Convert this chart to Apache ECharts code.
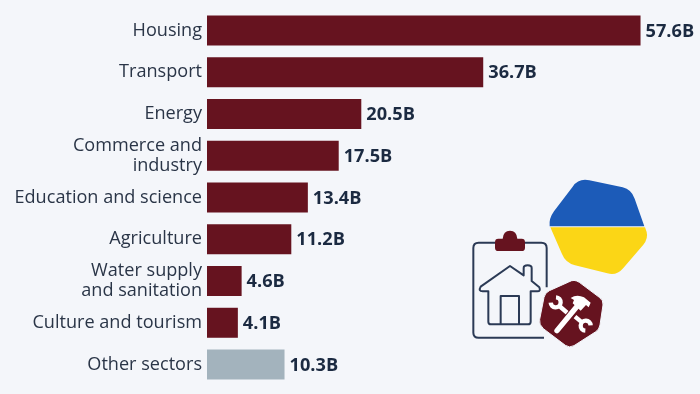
<!DOCTYPE html>
<html>
<head>
<meta charset="utf-8">
<script src="https://cdn.jsdelivr.net/npm/echarts@6/dist/echarts.min.js"></script>
<style>
  html, body { margin: 0; padding: 0; background: #f4f6fa; }
  #chart { width: 700px; height: 394px; }
</style>
</head>
<body>
<div id="chart"></div>
<script>
var categories = ['Housing', 'Transport', 'Energy', 'Commerce and\nindustry', 'Education and science',
                  'Agriculture', 'Water supply\nand sanitation', 'Culture and tourism', 'Other sectors'];
var values = [57.6, 36.7, 20.5, 17.5, 13.4, 11.2, 4.6, 4.1, 10.3];

var maroon = '#66131f';
var grey = '#a3b3bd';
var ink = '#2a3547';
var navy = '#1b2a41';
var pageBg = '#f4f6fa';

var myChart = echarts.init(document.getElementById('chart'));

// the graphic component has no plain path type, so register each icon shape
function iconPath(name, pathData, style) {
  echarts.graphic.registerShape(name, echarts.graphic.extendPath(pathData, {}));
  return { type: name, style: style };
}

var lineIcon = { fill: 'none', stroke: '#2b3a55', lineWidth: 6, lineJoin: 'round' };
var toolLine = { fill: 'none', stroke: '#fff', lineWidth: 13, lineCap: 'butt' };

// icons are drawn in the coordinates of a 3x crop, hence the scale on the group
var icons = {
  type: 'group',
  x: 460,
  y: 170,
  scaleX: 1 / 3,
  scaleY: 1 / 3,
  silent: true,
  children: [
    iconPath('flagTop', 'M269 169 Q266 146 282 124 L338 50 Q356 24 388 31 L488 52 Q514 58 524 86 L553 169 Z', { fill: '#1c5bb8' }),
    iconPath('flagBottom', 'M271 172 L555 172 L560 186 Q565 206 550 224 L490 294 Q470 318 442 310 L345 286 Q316 278 306 252 Z', { fill: '#fbd616' }),
    iconPath('board', 'M105 218 H56 Q40 218 40 234 V488 Q40 503 56 503 H252 M195 218 H244 Q260 218 260 234 V352', lineIcon),
    iconPath('boardClip', 'M115 206 H128 Q130 182 150 182 Q170 182 172 206 H185 Q195 206 195 216 V233 Q195 243 185 243 H115 Q105 243 105 233 V216 Q105 206 115 206 Z', { fill: maroon }),
    iconPath('house', 'M150 288 L191 316 V294 Q191 286 203 286 Q215 286 215 294 V333 L238 352 Q243 364 232 364 H212 V455 Q212 463 204 463 H93 Q85 463 85 455 V364 H68 Q54 364 62 350 Z M122 463 V378 H177 V463', lineIcon),
    iconPath('badge', 'M326 336 Q342 326 358 337 L418 382 Q431 391 429 405 L420 465 Q418 479 406 486 L342 527 Q328 535 316 526 L250 476 Q236 464 239 448 L252 382 Q255 368 268 362 Z', { fill: maroon, stroke: pageBg, lineWidth: 3 }),
    iconPath('wrenchTop', 'M288 382 A15 15 0 1 1 272 398 M298 408 L328 434', toolLine),
    iconPath('wrenchBottom', 'M376 482 A15 15 0 1 1 392 466 M345 440 L366 457', toolLine),
    iconPath('handleGap', 'M291 482 L352 408', { fill: 'none', stroke: maroon, lineWidth: 22 }),
    iconPath('handle', 'M291 482 L352 408', { fill: 'none', stroke: '#fff', lineWidth: 16, lineCap: 'round' }),
    iconPath('hammerHead', 'M332 384 Q350 372 372 382 L392 398 L386 412 L378 405 L362 422 L338 400 L342 390 Z', { fill: '#fff' })
  ]
};

var option = {
  animation: false,
  backgroundColor: pageBg,
  textStyle: { fontFamily: '"Open Sans"' },
  grid: { left: 207, top: 9.6, width: 451.6, height: 375.8 },
  xAxis: { type: 'value', min: 0, max: 60, show: false },
  yAxis: {
    type: 'category',
    inverse: true,
    data: categories,
    axisLine: { show: false },
    axisTick: { show: false },
    axisLabel: {
      color: ink,
      fontFamily: '"Open Sans"',
      fontSize: 18.1,
      lineHeight: 19.5,
      align: 'right',
      margin: 5
    }
  },
  series: [{
    type: 'bar',
    barWidth: 30,
    data: values.map(function (v, i) {
      return { value: v, itemStyle: { color: i === values.length - 1 ? grey : maroon } };
    }),
    label: {
      show: true,
      position: 'right',
      distance: 5,
      offset: [0, 1],
      color: navy,
      fontFamily: '"Open Sans"',
      fontWeight: 'bold',
      fontSize: 18.2,
      formatter: function (p) { return p.value.toFixed(1) + 'B'; }
    }
  }],
  graphic: [icons]
};
myChart.setOption(option);
</script>
</body>
</html>
